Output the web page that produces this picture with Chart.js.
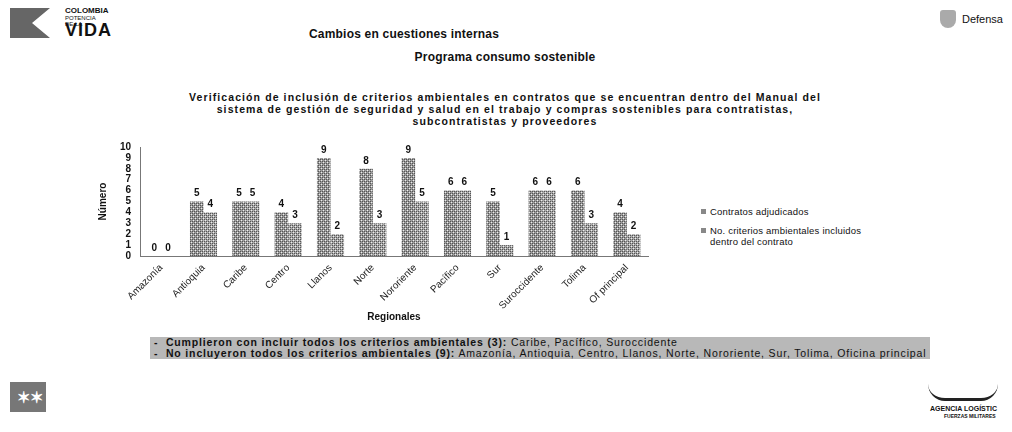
<!DOCTYPE html>
<html><head><meta charset="utf-8">
<script src="https://cdn.jsdelivr.net/npm/chart.js@4"></script>
<style>
html,body{margin:0;padding:0;background:#fff;width:1012px;height:432px;overflow:hidden;font-family:"Liberation Sans",Arial,sans-serif;color:#111;}
.abs{position:absolute;}
#t1{left:254px;top:27px;width:300px;text-align:center;font-size:12px;font-weight:bold;letter-spacing:0.2px;}
#t2{left:355px;top:50px;width:300px;text-align:center;font-size:12px;font-weight:bold;letter-spacing:0.2px;}
#t3{left:100px;top:91px;width:810px;text-align:center;font-size:10.5px;font-weight:bold;line-height:12px;letter-spacing:1.1px;}
#chartwrap{left:80px;top:135px;width:575px;height:195px;}
#legend{left:701px;top:206px;font-size:9.5px;line-height:11px;letter-spacing:0.2px;}
#legend div{margin-bottom:8px;position:relative;padding-left:9px;}
#legend span.sw{position:absolute;left:0;top:3px;width:5px;height:5px;background:#888;}
#box{left:150px;top:337px;width:780px;height:22px;background:#b8b8b8;font-size:10.5px;line-height:10.5px;padding:0 0 0 4px;box-sizing:border-box;white-space:nowrap;overflow:hidden;letter-spacing:0.85px;}
#logoL{left:10px;top:6px;}
#defensa{left:962px;top:13px;font-size:11px;}
</style></head>
<body>
<div class="abs" id="logoL">
  <div class="abs" style="left:0;top:2px;width:40px;height:30px;background:#666;clip-path:polygon(0 0,100% 0,55% 50%,100% 100%,0 100%);"></div>
  <div class="abs" style="left:55px;top:0;font-size:8px;font-weight:bold;">COLOMBIA</div>
  <div class="abs" style="left:55px;top:9px;font-size:6px;">POTENCIA DE LA</div>
  <div class="abs" style="left:55px;top:14px;font-size:18px;font-weight:bold;letter-spacing:1px;">VIDA</div>
</div>
<div class="abs" style="left:940px;top:10px;width:16px;height:18px;background:#aaa;border-radius:3px 3px 8px 8px;"></div>
<div class="abs" id="defensa">Defensa</div>
<div class="abs" id="t1">Cambios en cuestiones internas</div>
<div class="abs" id="t2">Programa consumo sostenible</div>
<div class="abs" id="t3">Verificación de inclusión de criterios ambientales en contratos que se encuentran dentro del Manual del<br>sistema de gestión de seguridad y salud en el trabajo y compras sostenibles para contratistas,<br>subcontratistas y proveedores</div>
<div class="abs" id="chartwrap"><canvas id="c" width="575" height="195"></canvas></div>
<div class="abs" id="legend">
  <div><span class="sw"></span>Contratos adjudicados</div>
  <div><span class="sw"></span>No. criterios ambientales incluidos<br>dentro del contrato</div>
</div>
<div class="abs" id="box"><b>- &nbsp;Cumplieron con incluir todos los criterios ambientales (3):</b> Caribe, Pacífico, Suroccidente<br><b>- &nbsp;No incluyeron todos los criterios ambientales (9):</b> Amazonía, Antioquia, Centro, Llanos, Norte, Nororiente, Sur, Tolima, Oficina principal</div>
<div class="abs" style="left:10px;top:382px;width:36px;height:30px;background:#777;"></div>
<div class="abs" style="left:17px;top:388px;color:#fff;font-size:16px;font-weight:bold;">✶✶</div>
<div class="abs" style="left:928px;top:384px;width:70px;height:14px;border-bottom:3px solid #222;border-radius:0 0 40px 40px;"></div>
<div class="abs" style="left:930px;top:405px;font-size:7px;font-weight:bold;">AGENCIA LOGÍSTIC</div>
<div class="abs" style="left:944px;top:413px;font-size:5px;font-weight:bold;">FUERZAS MILITARES</div>
<script>
const categories = ["Amazonía","Antioquia","Caribe","Centro","Llanos","Norte","Nororiente","Pacífico","Sur","Suroccidente","Tolima","Of principal"];
const contratos = [0,5,5,4,9,8,9,6,5,6,6,4];
const criterios = [0,4,5,3,2,3,5,6,1,6,3,2];
const yTicks = [0,1,2,3,4,5,6,7,8,9,10];

function halftone(base){
  const p=document.createElement('canvas');p.width=4;p.height=4;
  const g=p.getContext('2d');g.fillStyle=base;g.fillRect(0,0,4,4);
  g.fillStyle='#555';g.fillRect(0,0,1,1);g.fillRect(2,2,1,1);g.fillRect(2,0,1,1);g.fillRect(0,2,1,1);
  g.fillStyle='#eee';g.fillRect(1,1,1,1);g.fillRect(3,3,1,1);
  return g.createPattern(p,'repeat');
}
const ctxp=document.getElementById('c').getContext('2d');

const valueLabels={
  id:'valueLabels',
  afterDatasetsDraw(chart){
    const ctx=chart.ctx;ctx.save();
    ctx.font='bold 10px "Liberation Sans", Arial, sans-serif';ctx.fillStyle='#111';
    ctx.textAlign='center';ctx.textBaseline='bottom';
    chart.data.datasets.forEach((ds,i)=>{
      chart.getDatasetMeta(i).data.forEach((bar,j)=>{
        ctx.fillText(String(ds.data[j]),bar.x,bar.y-3);
      });
    });
    ctx.restore();
  }
};

new Chart(ctxp,{
  type:'bar',
  data:{labels:categories,datasets:[
    {label:'Contratos adjudicados',data:contratos,backgroundColor:halftone('#9a9a9a'),borderWidth:0},
    {label:'No. criterios ambientales incluidos dentro del contrato',data:criterios,backgroundColor:halftone('#a8a8a8'),borderWidth:0}
  ]},
  options:{
    responsive:false,animation:false,
    layout:{padding:{top:10,right:7,left:17,bottom:7}},
    categoryPercentage:0.64,barPercentage:1,
    plugins:{legend:{display:false},tooltip:{enabled:false}},
    scales:{
      x:{
        grid:{display:false,drawTicks:false},
        border:{display:true,color:'#777',width:1,dash:[2,2]},
        ticks:{maxRotation:45,minRotation:45,autoSkip:false,padding:6,color:'#222',font:{size:10,family:'"Liberation Sans", Arial, sans-serif'}},
        title:{display:true,text:'Regionales',color:'#111',font:{size:10,weight:'bold',family:'"Liberation Sans", Arial, sans-serif'},padding:{top:2,bottom:0}},
        afterFit(s){s.height=67;}
      },
      y:{
        min:0,max:10,
        afterBuildTicks(s){s.ticks=yTicks.map(v=>({value:v}));},
        grid:{display:false,drawTicks:true,tickLength:3,color:'#777'},
        border:{display:true,color:'#777',width:1,dash:[2,2]},
        ticks:{autoSkip:false,stepSize:1,color:'#111',padding:6,font:{size:10,weight:'bold',family:'"Liberation Sans", Arial, sans-serif'}},
        title:{display:true,text:'Número',color:'#111',font:{size:10,weight:'bold',family:'"Liberation Sans", Arial, sans-serif'},padding:{top:0,bottom:6}},
        afterFit(s){s.width=43;}
      }
    }
  },
  plugins:[valueLabels]
});
</script>
</body></html>
